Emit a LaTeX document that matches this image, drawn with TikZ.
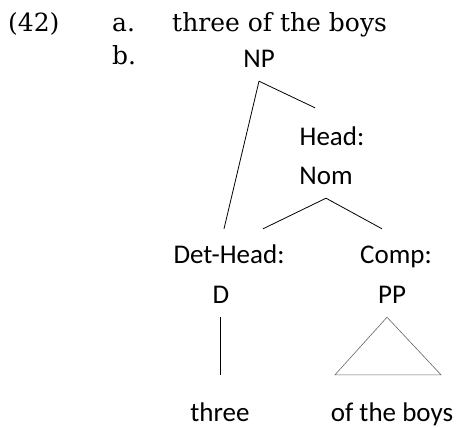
\documentclass[tikz,border=0pt]{standalone}
\usepackage{fontspec}
\newfontfamily\treefont{Carlito}
\newfontfamily\exfont{DejaVu Serif}
\begin{document}
\begin{tikzpicture}
        [x=1pt,y=-1pt,
         every node/.style={inner sep=0pt},
         ex/.style={font=\exfont\fontsize{25}{30}\selectfont,anchor=base west},
         cat/.style={font=\treefont\fontsize{27}{32}\selectfont,anchor=base,
             text height=19pt,text depth=6pt,inner ysep=8pt},
         branch/.style={line width=0.8pt},
         roof/.style={draw=black!60,line width=0.6pt}]
        \useasboundingbox (0,0) rectangle (458,428);
        % example number and sentence
        \node[ex] (num) at (8,32) {(42)};
        \node[ex] (itema) at (112,32) {a.};
        \node[ex] (phrase) at (172,32) {three of the boys};
        \node[ex] (itemb) at (112,65) {b.};
        % tree
        \node[cat] (np) at (259,67) {NP};
        \node[cat] (head) at (332,145) {Head:};
        \node[cat] (nom) at (326,184) {Nom};
        \node[cat] (dethead) at (229,263) {Det-Head:};
        \node[cat] (detd) at (221,303) {D};
        \node[cat] (comp) at (396,263) {Comp:};
        \node[cat] (comppp) at (392,303) {PP};
        \node[cat] (three) at (220,421) {three};
        \node[cat] (boys) at (392,421) {of the boys};
        \draw[branch] (np.south) -- ([xshift=-17,yshift=10]head.north);
        \draw[branch] (np.south) -- ([xshift=-5,yshift=7]dethead.north);
        \draw[branch] (nom.south) -- ([xshift=34,yshift=7]dethead.north);
        \draw[branch] (nom.south) -- ([xshift=-14,yshift=7]comp.north);
        \draw[branch] (three.north |- detd.south) -- ([yshift=19]three.north);
        \draw[roof] ([xshift=-5]comppp.south)
            -- ([xshift=-57,yshift=19]boys.north)
            -- ([xshift=49,yshift=19]boys.north) -- cycle;
\end{tikzpicture}
\end{document}
